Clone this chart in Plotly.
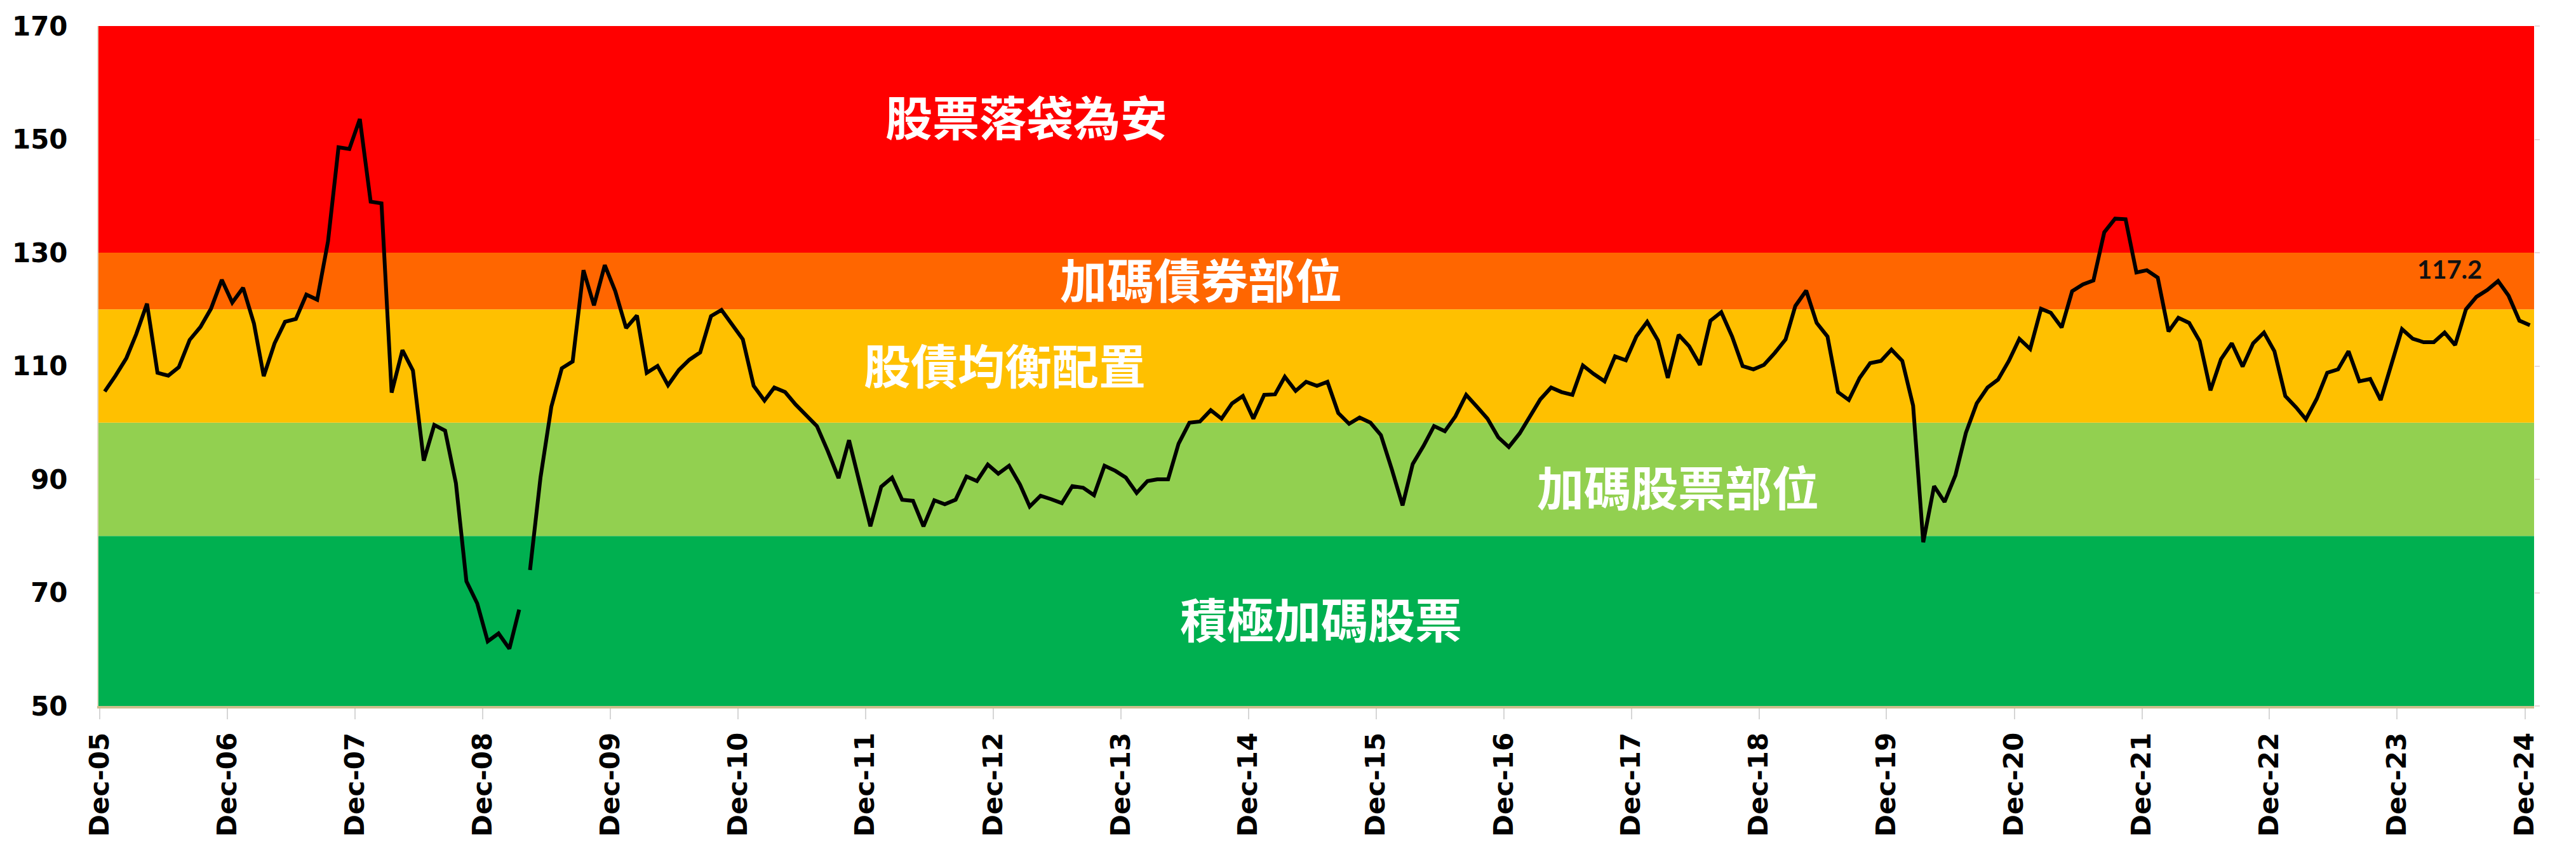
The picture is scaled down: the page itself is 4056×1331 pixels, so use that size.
import pandas as pd
import plotly.graph_objects as go

# ---------------- data ----------------
start_month = "2005-12-01"
values = [
    105.5, 108.3, 111.4, 115.6, 121.0, 108.8, 108.3, 109.8, 114.6, 116.9, 120.1, 125.2,   # Dec05-Nov06
    121.2, 123.8, 117.5, 108.2, 114.0, 117.8, 118.3, 122.6, 121.7, 132.0, 148.6, 148.3,   # Dec06-Nov07
    153.6, 139.0, 138.7, 105.3, 112.8, 109.2, 93.3, 99.6, 98.6, 89.3, 72.0, 68.1,         # Dec07-Nov08
    61.4, 62.8, 60.1, 67.0, 74.0, 90.3, 102.8, 109.6, 110.8, 126.9, 120.7, 127.8,         # Dec08-Nov09
    123.2, 116.7, 118.9, 108.8, 110.0, 106.6, 109.3, 111.1, 112.4, 118.8, 119.9, 117.3,   # Dec09-Nov10
    114.7, 106.5, 103.9, 106.2, 105.4, 103.2, 101.3, 99.4, 95.0, 90.2, 96.9, 89.3,        # Dec10-Nov11
    81.7, 88.7, 90.3, 86.4, 86.2, 81.7, 86.3, 85.6, 86.4, 90.5, 89.7, 92.6,               # Dec11-Nov12
    91.0, 92.4, 89.1, 85.2, 87.1, 86.5, 85.8, 88.8, 88.5, 87.2, 92.4, 91.5,               # Dec12-Nov13
    90.3, 87.6, 89.7, 90.0, 90.0, 96.3, 100.0, 100.2, 102.2, 100.7, 103.4, 104.7,         # Dec13-Nov14
    100.7, 104.9, 105.0, 108.1, 105.6, 107.2, 106.5, 107.2, 101.7, 99.8, 100.9, 100.0,    # Dec14-Nov15
    97.8, 91.8, 85.4, 92.7, 95.9, 99.4, 98.5, 101.1, 104.9, 102.8, 100.7, 97.4,           # Dec15-Nov16
    95.7, 98.1, 101.1, 104.1, 106.2, 105.4, 104.9, 110.1, 108.6, 107.3, 111.7, 111.0,     # Dec16-Nov17
    115.2, 117.8, 114.5, 107.9, 115.5, 113.5, 110.2, 118.0, 119.5, 115.2, 110.0, 109.4,   # Dec17-Nov18
    110.2, 112.3, 114.7, 120.6, 123.3, 117.6, 115.2, 105.4, 104.0, 107.9, 110.5, 110.9,   # Dec18-Nov19
    112.9, 110.9, 103.0, 78.9, 88.8, 86.0, 90.7, 98.2, 103.4, 106.2, 107.6, 110.9,        # Dec19-Nov20
    114.8, 113.0, 120.1, 119.4, 116.8, 123.2, 124.4, 125.1, 133.6, 136.0, 135.9, 126.5,   # Dec20-Nov21
    126.9, 125.6, 116.1, 118.5, 117.6, 114.4, 105.7, 111.2, 114.0, 109.9, 114.0, 115.9,   # Dec21-Nov22
    112.6, 104.7, 102.7, 100.6, 104.2, 108.8, 109.4, 112.6, 107.3, 107.7, 104.0, 110.1,   # Dec22-Nov23
    116.5, 114.8, 114.2, 114.2, 115.9, 113.7, 120.0, 122.2, 123.4, 125.0, 122.4, 118.0,   # Dec23-Nov24
    117.2,                                                                                 # Dec24
]
gap_after_index = 39  # line is broken between these two months (early 2009)

band_edges = [50, 80, 100, 120, 130, 170]
band_colors = ["#00B050", "#92D050", "#FFC000", "#FF6600", "#FF0000"]
band_labels = ["積極加碼股票", "加碼股票部位", "股債均衡配置", "加碼債券部位", "股票落袋為安"]
band_label_x = [0.502, 0.6485, 0.3721, 0.4527, 0.381]
band_label_y = [65.6, 88.9, 110.4, 125.6, 154.3]

y_ticks = [50, 70, 90, 110, 130, 150, 170]
last_label = "117.2"

# ---------------- build ----------------
months = pd.date_range(start_month, periods=len(values), freq="MS") + pd.Timedelta(days=14)

fig = go.Figure()
seg1_x, seg1_y = months[: gap_after_index + 1], values[: gap_after_index + 1]
seg2_x, seg2_y = months[gap_after_index + 1:], values[gap_after_index + 1:]
for sx, sy in [(seg1_x, seg1_y), (seg2_x, seg2_y)]:
    fig.add_trace(go.Scatter(x=sx, y=sy, mode="lines",
                             line=dict(color="black", width=6),
                             showlegend=False, hoverinfo="skip"))
# invisible trace for right-side y ticks
fig.add_trace(go.Scatter(x=[months[0]], y=[band_edges[0]], yaxis="y2",
                         mode="markers", marker=dict(opacity=0),
                         showlegend=False, hoverinfo="skip"))

for i, c in enumerate(band_colors):
    fig.add_shape(type="rect", xref="paper", x0=0, x1=1, yref="y",
                  y0=band_edges[i], y1=band_edges[i + 1],
                  fillcolor=c, line=dict(width=0), layer="below")

for lab, lx, ly in zip(band_labels, band_label_x, band_label_y):
    fig.add_annotation(x=lx, xref="paper", y=ly, yref="y", text=lab, showarrow=False,
                       font=dict(family="Noto Sans CJK TC", size=74, color="white",
                                 weight="bold"))

fig.add_annotation(x=months[-1], y=values[-1], text=last_label, showarrow=False,
                   xshift=-126, yshift=88,
                   font=dict(family="Lato", size=40, color="#111111", weight="bold"))

fig.update_layout(
    width=4056, height=1331,
    margin=dict(l=155, r=66, t=41, b=219),
    paper_bgcolor="white", plot_bgcolor="white",
    xaxis=dict(
        type="date",
        range=["2005-11-27", "2024-12-27"],
        tick0="2005-12-01", dtick="M12", tickformat="%b-%y",
        tickangle=-90,
        ticks="outside", ticklen=17, tickwidth=2, tickcolor="#D6D6D6",
        showline=True, linecolor="#CDBF8E", linewidth=4,
        showgrid=False, zeroline=False,
        tickfont=dict(family="DejaVu Sans", size=42, color="black", weight="bold"),
        ticklabelstandoff=4,
    ),
    yaxis=dict(
        range=[50, 170], tickvals=y_ticks,
        showgrid=False, zeroline=False,
        showline=True, linecolor="#E3D9C4", linewidth=2,
        ticks="", ticklabelstandoff=38,
        tickfont=dict(family="DejaVu Sans", size=42, color="black", weight="bold"),
    ),
    yaxis2=dict(
        range=[50, 170], tickvals=y_ticks, overlaying="y", side="right",
        showticklabels=False, ticks="outside", ticklen=8, tickwidth=2,
        tickcolor="#EADADA", showgrid=False, zeroline=False, showline=False,
    ),
)

fig.write_html("out.html")
